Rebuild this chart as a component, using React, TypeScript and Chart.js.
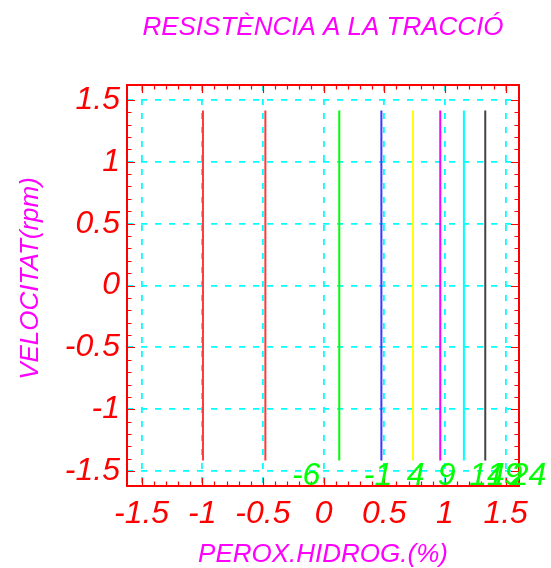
import { useEffect, useRef } from 'react';
import { Chart, registerables } from 'chart.js';

Chart.register(...registerables);

const TITLE = 'RESISTÈNCIA A LA TRACCIÓ';
const X_TITLE = 'PEROX.HIDROG.(%)';
const Y_TITLE = 'VELOCITAT(rpm)';

// Axis ranges and labelled ticks (same on both axes)
const X_RANGE = [-1.62, 1.61];
const Y_RANGE = [-1.62, 1.62];
const AXIS_TICKS = [-1.5, -1, -0.5, 0, 0.5, 1, 1.5];
const AXIS_TICK_LABELS = ['-1.5', '-1', '-0.5', '0', '0.5', '1', '1.5'];

// Vertical iso-lines: x position, vertical extent and colour
const CONTOUR_X = [-0.994, -0.48, 0.129, 0.476, 0.736, 0.961, 1.156, 1.332];
const CONTOUR_Y = [-1.414, 1.414];
const CONTOUR_COLORS = ['#ff3a3a', '#ff3a3a', '#00ff00', '#3a3aff', '#ffff00', '#ff00ff', '#00ffff', '#444444'];

// Level labels along the bottom of the plot
const LEVEL_LABELS = ['-6', '-1', '4', '9', '14', '19', '24'];
const LEVEL_LABEL_X = [-0.144, 0.449, 0.758, 1.014, 1.347, 1.49, 1.689];
const LEVEL_LABEL_Y = -1.611;

const FAMILY = "'Liberation Sans', Arial, sans-serif";
const RED = '#ff0000';
const MAGENTA = '#ff00ff';
const GREEN = '#00ff00';
const CYAN = '#00ffff';

const tickFont = { family: FAMILY, size: 32, style: 'italic' as const, weight: 'normal' as const };
const titleFont = { family: FAMILY, size: 26, style: 'italic' as const, weight: 'normal' as const, lineHeight: 1 };

// Red frame with inward minor/major tick marks, the level labels and the vertical axis title
const framePlugin = {
  id: 'frame',
  afterDatasetsDraw(chart: any) {
    const { ctx, chartArea: a, scales } = chart;
    const x = scales.x;
    const y = scales.y;
    ctx.save();
    ctx.strokeStyle = RED;
    ctx.lineWidth = 1.2;
    ctx.beginPath();
    for (let k = -15; k <= 15; k++) {
      const v = k / 10;
      const len = k % 5 === 0 ? 8 : 4.5;
      const px = Math.round(x.getPixelForValue(v)) + 0.5;
      ctx.moveTo(px, a.top);
      ctx.lineTo(px, a.top + len);
      ctx.moveTo(px, a.bottom);
      ctx.lineTo(px, a.bottom - len);
      const py = Math.round(y.getPixelForValue(v)) + 0.5;
      ctx.moveTo(a.left, py);
      ctx.lineTo(a.left + len, py);
      ctx.moveTo(a.right, py);
      ctx.lineTo(a.right - len, py);
    }
    ctx.stroke();
    ctx.lineWidth = 2;
    ctx.strokeRect(a.left, a.top, a.right - a.left, a.bottom - a.top);

    ctx.font = `italic normal 32px ${FAMILY}`;
    ctx.fillStyle = GREEN;
    ctx.textAlign = 'center';
    ctx.textBaseline = 'alphabetic';
    const ly = y.getPixelForValue(LEVEL_LABEL_Y);
    LEVEL_LABELS.forEach((t, i) => {
      ctx.fillText(t, x.getPixelForValue(LEVEL_LABEL_X[i]), ly);
    });

    // vertical axis title
    ctx.font = `italic normal 26px ${FAMILY}`;
    ctx.fillStyle = MAGENTA;
    ctx.textBaseline = 'alphabetic';
    ctx.translate(38, (a.top + a.bottom) / 2 - 7);
    ctx.rotate(-Math.PI / 2);
    ctx.fillText(Y_TITLE, 0, 0);
    ctx.restore();
  },
};

export default function App() {
  const ref = useRef<HTMLCanvasElement>(null);

  useEffect(() => {
    const canvas = ref.current;
    if (!canvas) return;
    const chart = new Chart(canvas, {
      type: 'line',
      data: {
        datasets: CONTOUR_X.map((cx, i) => ({
          label: `c${i}`,
          data: CONTOUR_Y.map((cy) => ({ x: cx, y: cy })),
          borderColor: CONTOUR_COLORS[i],
          borderWidth: 2,
          pointRadius: 0,
          fill: false,
          tension: 0,
        })),
      },
      options: {
        responsive: false,
        animation: false,
        devicePixelRatio: 1,
        layout: { padding: { left: 0, right: 32, top: 0, bottom: 0 } },
        plugins: {
          legend: { display: false },
          tooltip: { enabled: false },
          title: {
            display: true,
            text: TITLE,
            color: MAGENTA,
            font: titleFont,
            fullSize: false,
            padding: { top: 15, bottom: 44 },
          },
        },
        scales: {
          x: {
            type: 'linear',
            min: X_RANGE[0],
            max: X_RANGE[1],
            afterBuildTicks: (s: any) => {
              s.ticks = AXIS_TICKS.map((value) => ({ value }));
            },
            afterFit: (s: any) => {
              s.height = 82;
            },
            ticks: {
              autoSkip: false,
              maxRotation: 0,
              padding: 9,
              color: RED,
              font: tickFont,
              callback: (_v: any, i: number) => AXIS_TICK_LABELS[i],
            },
            grid: { color: CYAN, lineWidth: 1.8, drawTicks: false },
            border: { display: false, dash: [6, 8] },
            title: {
              display: true,
              text: X_TITLE,
              color: MAGENTA,
              font: titleFont,
              padding: { top: 0, bottom: 0 },
            },
          },
          y: {
            type: 'linear',
            min: Y_RANGE[0],
            max: Y_RANGE[1],
            afterBuildTicks: (s: any) => {
              s.ticks = AXIS_TICKS.map((value) => ({ value }));
            },
            afterFit: (s: any) => {
              s.width = 127;
            },
            ticks: {
              autoSkip: false,
              padding: 7,
              color: RED,
              font: tickFont,
              callback: (_v: any, i: number) => AXIS_TICK_LABELS[i],
            },
            grid: { color: CYAN, lineWidth: 1.8, drawTicks: false },
            border: { display: false, dash: [6, 8] },
          },
        },
      },
      plugins: [framePlugin],
    });
    return () => chart.destroy();
  }, []);

  return (
    <div style={{ position: 'fixed', left: 0, top: 0, width: 551, height: 568, background: '#ffffff' }}>
      <canvas ref={ref} width={551} height={568} style={{ display: 'block' }} />
    </div>
  );
}
